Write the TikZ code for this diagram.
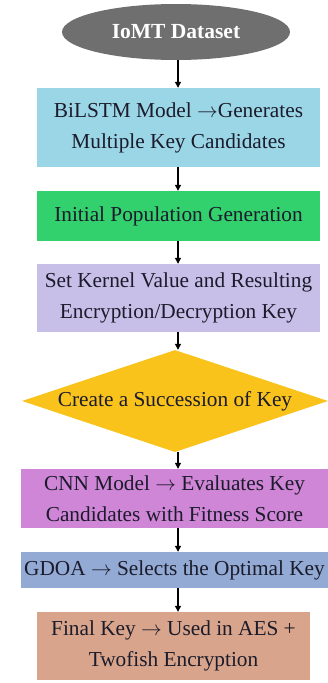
\documentclass[tikz,border=0pt]{standalone}
\usepackage{fontspec}
\setmainfont{Liberation Serif}
\usetikzlibrary{shapes.geometric,arrows.meta}

\definecolor{dsgray}{HTML}{6F6F6F}
\definecolor{bilblue}{HTML}{9AD6E6}
\definecolor{initgreen}{HTML}{33D06E}
\definecolor{kernlav}{HTML}{C8BFE8}
\definecolor{diagold}{HTML}{F9C31B}
\definecolor{cnnmag}{HTML}{CF86D6}
\definecolor{gdoablue}{HTML}{93ABD4}
\definecolor{finbrown}{HTML}{D8A58C}
\definecolor{ink}{HTML}{1B1B2B}

\tikzset{
  stepbox/.style={rectangle, inner sep=0pt, align=center, text=ink,
    font=\fontsize{21.3}{31}\selectfont},
  flowarrow/.style={draw=black, line width=1.1pt,
    -{Triangle[length=6pt,width=6pt]}},
}

\begin{document}
\begin{tikzpicture}[x=1pt,y=-1pt]
  \useasboundingbox (0,0) rectangle (328,683);
  \fill[white] (0,0) rectangle (328,683);

  % vertical spine for the connectors
  \coordinate (sp) at (178,0);

  \node[ellipse, fill=dsgray, minimum width=228pt, minimum height=56pt,
        inner sep=0pt, text=white, font=\fontsize{21.5}{26}\selectfont\bfseries]
        (ds) at (176,32) {IoMT Dataset};

  \node[stepbox, fill=bilblue, minimum width=283pt, minimum height=79pt]
        (bil) at (178.5,127.5) {BiLSTM Model $\rightarrow$Generates\\Multiple Key Candidates};

  \node[stepbox, fill=initgreen, minimum width=283pt, minimum height=50pt]
        (init) at (178.5,216) {Initial Population Generation};

  \node[stepbox, fill=kernlav, minimum width=283pt, minimum height=68pt]
        (kern) at (178.5,298) {Set Kernel Value and Resulting\\Encryption/Decryption Key};

  \node[diamond, fill=diagold, minimum width=306pt, minimum height=102pt,
        inner sep=0pt] (dia) at (175,401) {};
  \node[stepbox] (diatext) at (dia.center) {Create a Succession of Key};

  \node[stepbox, fill=cnnmag, minimum width=307pt, minimum height=59pt]
        (cnn) at (174.5,498.5) {CNN Model $\rightarrow$ Evaluates Key\\Candidates with Fitness Score};

  \node[stepbox, fill=gdoablue, minimum width=307pt, minimum height=36pt]
        (gdoa) at (174.5,570) {GDOA $\rightarrow$ Selects the Optimal Key};

  \node[stepbox, fill=finbrown, minimum width=273pt, minimum height=68pt]
        (fin) at (173.5,646) {Final Key $\rightarrow$ Used in AES +\\Twofish Encryption};

  % connectors
  \draw[flowarrow] (ds.south -| sp) -- (bil.north -| sp);
  \draw[flowarrow] (bil.south -| sp) -- (init.north -| sp);
  \draw[flowarrow] (init.south -| sp) -- (kern.north -| sp);
  \draw[flowarrow] (kern.south -| sp) -- (dia.north -| sp);
  \draw[flowarrow] (dia.south -| sp) -- (cnn.north -| sp);
  \draw[flowarrow] (cnn.south -| sp) -- (gdoa.north -| sp);
  \draw[flowarrow] (gdoa.south -| sp) -- (fin.north -| sp);
\end{tikzpicture}
\end{document}
